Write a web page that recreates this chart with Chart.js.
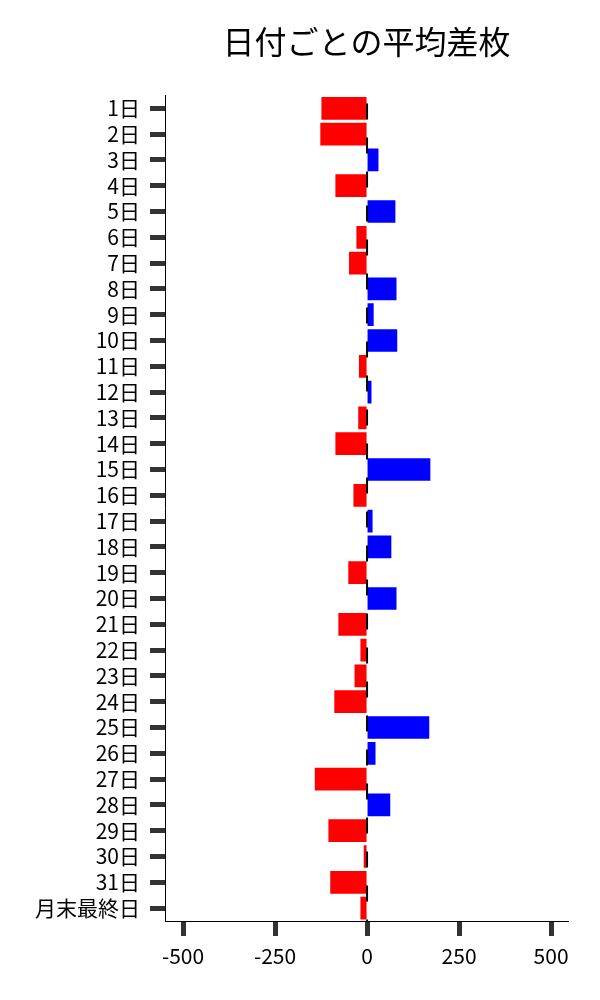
<!DOCTYPE html>
<html>
<head>
<meta charset="utf-8">
<script src="https://cdn.jsdelivr.net/npm/chart.js@4"></script>
<style>
  html, body { margin: 0; padding: 0; background: #fff; }
  #wrap { width: 600px; height: 1000px; }
</style>
</head>
<body>
<div id="wrap"><canvas id="barChart" width="600" height="1000"></canvas></div>
<script>
// 日付ごとの平均差枚
const days = ['1日', '2日', '3日', '4日', '5日', '6日', '7日', '8日', '9日', '10日',
    '11日', '12日', '13日', '14日', '15日', '16日', '17日', '18日', '19日', '20日',
    '21日', '22日', '23日', '24日', '25日', '26日', '27日', '28日', '29日', '30日',
    '31日', '月末最終日'];
const avgDiff = [-124, -127, 31, -86, 77, -29, -49, 80, 18, 82,
    -22, 12, -24, -86, 172, -37, 15, 66, -51, 80,
    -78, -18, -34, -89, 169, 23, -142, 63, -105, -9,
    -100, -18];
const xTicks = [-500, -250, 0, 250, 500];

const FONT = '"Noto Sans CJK JP", "Noto Sans", sans-serif';

// dashed black line at zero
const zeroLine = {
    id: 'zeroLine',
    afterDatasetsDraw(chart) {
        const { ctx, chartArea, scales } = chart;
        const x = scales.x.getPixelForValue(0);
        ctx.save();
        ctx.strokeStyle = '#000';
        ctx.lineWidth = 2;
        ctx.setLineDash([16, 18]);
        ctx.lineDashOffset = 26;
        ctx.beginPath();
        ctx.moveTo(x, chartArea.top);
        ctx.lineTo(x, chartArea.bottom);
        ctx.stroke();
        ctx.restore();
    }
};

function createBarChart() {
    const ctx = document.getElementById('barChart').getContext('2d');
    new Chart(ctx, {
        type: 'bar',
        data: {
            labels: days,
            datasets: [{
                data: avgDiff,
                backgroundColor: avgDiff.map(v => v < 0 ? '#ff0000' : '#0000ff'),
                borderWidth: 0,
                barPercentage: 0.88,
                categoryPercentage: 1.0
            }]
        },
        options: {
            indexAxis: 'y',
            responsive: false,
            animation: false,
            layout: { padding: { left: 0, right: 32, top: 0, bottom: 0 } },
            plugins: {
                legend: { display: false },
                tooltip: { enabled: false },
                title: {
                    display: true,
                    text: '日付ごとの平均差枚',
                    fullSize: false,
                    color: '#000',
                    font: { family: FONT, size: 32, weight: 'normal', lineHeight: 1.2 },
                    padding: { top: 23, bottom: 34 }
                }
            },
            scales: {
                x: {
                    min: -549,
                    max: 546,
                    afterBuildTicks: scale => {
                        scale.ticks = xTicks.map(v => ({ value: v }));
                    },
                    afterFit: scale => { scale.height = 79; },
                    grid: {
                        drawOnChartArea: false,
                        drawTicks: true,
                        tickLength: 15,
                        tickWidth: 5,
                        tickColor: '#333'
                    },
                    border: { display: true, color: '#000', width: 1 },
                    ticks: {
                        color: '#000',
                        padding: 7,
                        maxRotation: 0,
                        font: { family: FONT, size: 21 }
                    }
                },
                y: {
                    afterFit: scale => { scale.width = 165; },
                    grid: {
                        offset: false,
                        drawOnChartArea: false,
                        drawTicks: true,
                        tickLength: 15,
                        tickWidth: 5,
                        tickColor: '#333'
                    },
                    border: { display: true, color: '#000', width: 1 },
                    ticks: {
                        color: '#000',
                        padding: 10,
                        autoSkip: false,
                        font: { family: FONT, size: 21 }
                    }
                }
            }
        },
        plugins: [zeroLine]
    });
}

document.addEventListener('DOMContentLoaded', createBarChart);
</script>
</body>
</html>
